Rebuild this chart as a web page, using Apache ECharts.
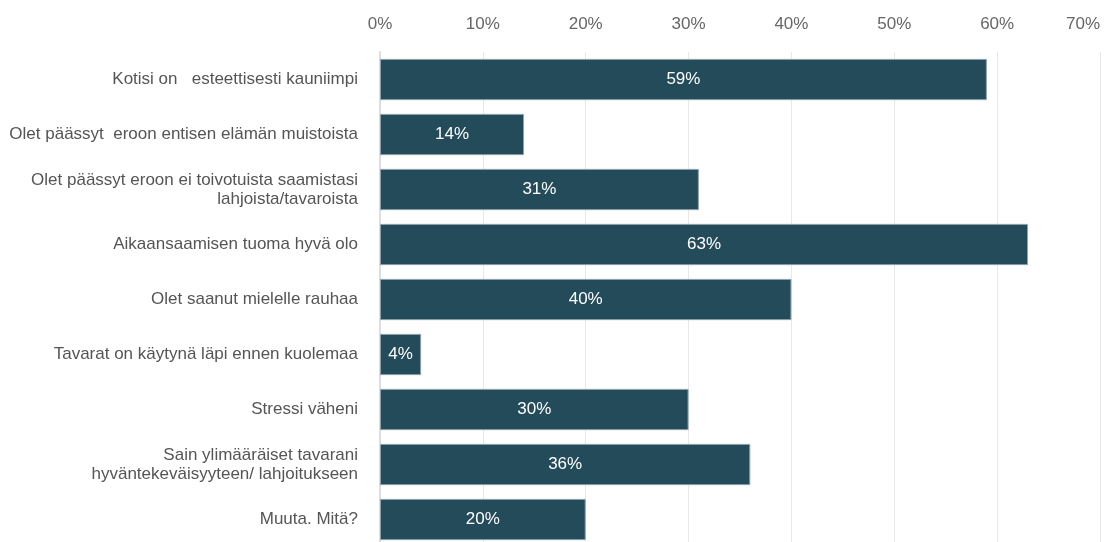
<!DOCTYPE html>
<html>
<head>
<meta charset="utf-8">
<script src="https://cdn.jsdelivr.net/npm/echarts@6/dist/echarts.min.js"></script>
<style>
	html, body { margin: 0; padding: 0; background: #fff; }
	#tuxing { width: 1105px; height: 542px; }
</style>
</head>
<body>
<div id="tuxing"></div>
<script>
var categories = [
	'Kotisi on   esteettisesti kauniimpi',
	'Olet päässyt  eroon entisen elämän muistoista',
	'Olet päässyt eroon ei toivotuista saamistasi\nlahjoista/tavaroista',
	'Aikaansaamisen tuoma hyvä olo',
	'Olet saanut mielelle rauhaa',
	'Tavarat on käytynä läpi ennen kuolemaa',
	'Stressi väheni',
	'Sain ylimääräiset tavarani\nhyväntekeväisyyteen/ lahjoitukseen',
	'Muuta. Mitä?'
];
var values = [59, 14, 31, 63, 40, 4, 30, 36, 20];

var myChart = echarts.init(document.getElementById('tuxing'));

var option = {
	animation: false,
	textStyle: {
		fontFamily: 'Liberation Sans, Arial, sans-serif'
	},
	grid: {
		left: 380,
		top: 52,
		right: 5,
		height: 495,
		outerBoundsMode: 'none'
	},
	xAxis: {
		type: 'value',
		position: 'top',
		min: 0,
		max: 70,
		interval: 10,
		axisLine: { show: false },
		axisTick: { show: false },
		axisLabel: {
			formatter: '{value}%',
			color: '#666',
			fontSize: 17,
			margin: 19,
			alignMaxLabel: 'right'
		},
		splitLine: {
			lineStyle: { color: '#e8e8e8', width: 1 }
		}
	},
	yAxis: {
		type: 'category',
		inverse: true,
		data: categories,
		axisLine: {
			show: true,
			lineStyle: { color: '#dcdde6', width: 2 }
		},
		axisTick: { show: false },
		axisLabel: {
			color: '#555',
			fontSize: 17,
			margin: 22,
			lineHeight: 19,
			align: 'right'
		}
	},
	series: [{
		type: 'bar',
		data: values,
		barCategoryGap: '25%',
		itemStyle: {
			color: '#234b5a',
			borderColor: '#8fa2ab',
			borderWidth: 1
		},
		label: {
			show: true,
			position: 'inside',
			formatter: '{c}%',
			color: '#fff',
			fontSize: 17
		}
	}]
};

myChart.setOption(option);
</script>
</body>
</html>
